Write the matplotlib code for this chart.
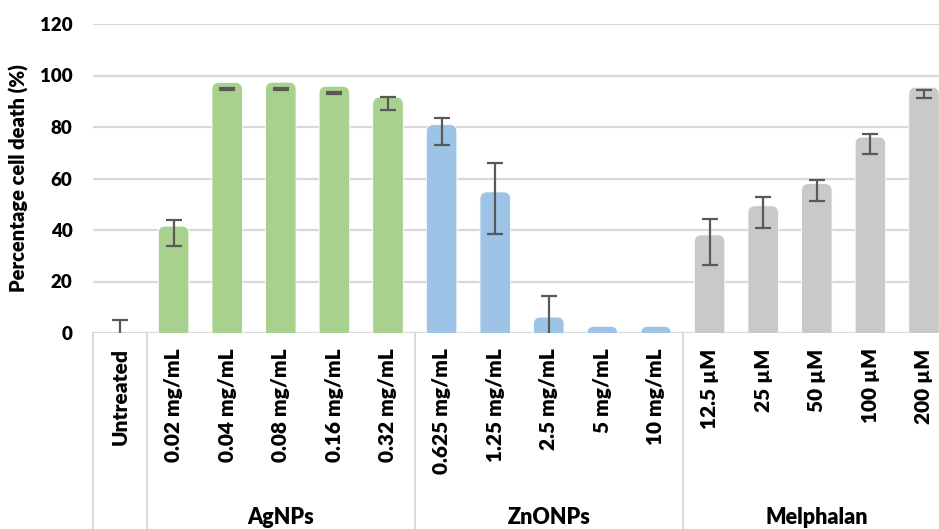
import matplotlib
matplotlib.use("Agg")
import matplotlib.pyplot as plt
from matplotlib.patches import FancyBboxPatch
import matplotlib.transforms as mtransforms

categories = ["Untreated",
              "0.02 mg/mL", "0.04 mg/mL", "0.08 mg/mL", "0.16 mg/mL", "0.32 mg/mL",
              "0.625 mg/mL", "1.25 mg/mL", "2.5 mg/mL", "5 mg/mL", "10 mg/mL",
              "12.5 µM", "25 µM", "50 µM", "100 µM", "200 µM"]
means = [0.0,
         38.9, 94.7, 94.8, 93.2, 89.0,
         78.3, 52.2, 3.6, 0.0, 0.0,
         35.5, 46.8, 55.4, 73.5, 92.8]
errors = [5.2,
          5.0, 0.4, 0.5, 0.5, 2.5,
          5.3, 13.7, 10.9, 0.0, 0.0,
          8.9, 6.0, 4.0, 3.9, 1.5]
groups = ["", "AgNPs", "ZnONPs", "Melphalan"]
group_sizes = [1, 5, 5, 5]
group_colors = ["#A9D18E", "#A9D18E", "#9DC3E6", "#C9C9C9"]
ylabel = "Percentage cell death (%)"

FONT = "Lato"
FW = "heavy"
FS = 15.0
W, H = 939, 529
fig = plt.figure(figsize=(W / 100, H / 100), dpi=100)
left_px, right_px, top_px, axis_px = 93.2, 950.8, 24, 333
ax = fig.add_axes([left_px / W, (H - axis_px) / H,
                   (right_px - left_px) / W, (axis_px - top_px) / H])
n = len(categories)
ax.set_xlim(-0.5, n - 0.5)
ax.set_ylim(0, 120)

bar_colors = []
for g, s in enumerate(group_sizes):
    bar_colors += [group_colors[g]] * s

px_per_x = (right_px - left_px) / n
px_per_y = (axis_px - top_px) / 120.0
aspect = px_per_x / px_per_y
bar_w_px = 30.5
cap_px = 6.7
round_px = 7.0
for i, (m, c) in enumerate(zip(means, bar_colors)):
    if i == 0:
        continue
    w = bar_w_px / px_per_x
    top = m + cap_px / px_per_y
    bottom = -10
    p = FancyBboxPatch((i - w / 2, bottom), w, top - bottom,
                       boxstyle=f"round,pad=0,rounding_size={round_px / px_per_x}",
                       mutation_aspect=aspect, facecolor=c,
                       edgecolor="white", linewidth=0.6, zorder=2, clip_on=True)
    ax.add_patch(p)

for i, (m, e) in enumerate(zip(means, errors)):
    if e <= 0:
        continue
    ax.errorbar([i], [m], yerr=[e], fmt="none", ecolor="#595959",
                elinewidth=1.6, capsize=5.5, capthick=1.6, zorder=3, clip_on=True)

for v in range(0, 121, 20):
    ax.axhline(v, color="#D9D9D9", linewidth=1.6, zorder=1)
for s in ax.spines.values():
    s.set_visible(False)

ax.set_yticks(range(0, 121, 20))
ax.set_yticklabels([str(v) for v in range(0, 121, 20)], fontsize=13.5,
                   fontweight=FW, fontfamily=FONT)
ax.tick_params(axis="y", length=0, pad=15)
ax.set_xticks(range(n))
ax.set_xticklabels(categories, rotation=90, fontsize=FS, fontweight=FW,
                   fontfamily=FONT, va="top", ha="center")
ax.tick_params(axis="x", length=0, pad=11)
ax.set_ylabel(ylabel, fontsize=14.5, fontweight=FW, fontfamily=FONT, labelpad=8)

trans = mtransforms.blended_transform_factory(ax.transData, ax.transAxes)
depth = -(H - axis_px) / (axis_px - top_px)
bounds = [-0.5]
for s in group_sizes:
    bounds.append(bounds[-1] + s)
for b in bounds[:-1]:
    ax.plot([b, b], [0, depth], transform=trans, color="#D9D9D9",
            linewidth=1.4, clip_on=False, zorder=1)
label_y = -(517 - axis_px) / (axis_px - top_px)
for g, name in enumerate(groups):
    if not name:
        continue
    cx = (bounds[g] + bounds[g + 1]) / 2
    ax.text(cx, label_y, name, transform=trans, ha="center", va="center",
            fontsize=FS + 0.5, fontweight=FW, fontfamily=FONT)

fig.savefig("out.png", dpi=100)
